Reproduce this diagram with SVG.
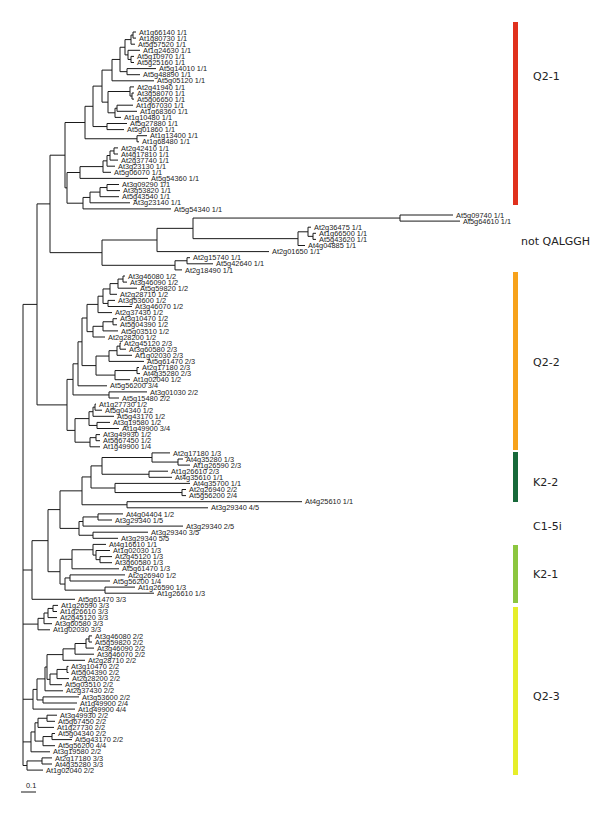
<svg xmlns="http://www.w3.org/2000/svg" width="600" height="816" viewBox="0 0 600 816">
<style>
.br{fill:none;stroke:#1a1a1a;stroke-width:1}
.lf{font-family:"Liberation Sans",Arial,sans-serif;font-size:7.4px;fill:#222}
.cl{font-family:"DejaVu Sans",sans-serif;font-size:11px;fill:#222}
</style>
<rect width="600" height="816" fill="#fff"/>
<g id="connectors" class="br">
<path d="M136 32 H133 V38.1 H136 M133 35.05 H131 V44.2 H135 M134 56.4 H131 V62.5 H134 M140 50.3 H128 V59.45 H131 M131 39.6 H125 V54.9 H128 M156 68.6 H127 V74.7 H140 M125 47.25 H120 V71.65 H127 M120 59.45 H112 V80.8 H154 M134 93 H132 V99.1 H134 M134 86.9 H130 V96.05 H132 M133 105.2 H117 V111.3 H137 M117 108.25 H115 V117.4 H121 M130 91.5 H108 V112.8 H115 M112 70.1 H102 V102.15 H108 M127 123.5 H107 V129.6 H124 M102 86.1 H93 V126.55 H107 M147 135.7 H137 V141.8 H139 M93 106.3 H85 V138.75 H137"/>
<path d="M118 147.9 H114 V154 H118 M114 150.95 H110 V160.1 H118 M110 155.5 H107 V166.2 H115 M107 160.85 H103 V172.3 H111 M103 166.6 H80 V178.4 H148 M119 184.5 H107 V190.6 H120 M107 187.55 H100 V196.7 H119 M100 192.1 H90 V202.8 H130 M90 197.45 H83 V208.9 H171 M80 172.5 H67 V203.2 H83 M85 122.5 H65 V187.85 H67"/>
<path d="M453 215 H400 V221.1 H460 M316 233.3 H313 V239.4 H316 M311 227.2 H308 V236.35 H313 M308 231.8 H298 V245.5 H305 M400 218.05 H193 V238.65 H298 M193 228.35 H157 V251.6 H269 M190 257.7 H187 V263.8 H213 M187 260.75 H175 V269.9 H182 M157 240 H102 V265.3 H175 M65 155.2 H50 V252.65 H102"/>
<path d="M125 276 H123 V282.1 H127 M123 279.05 H118 V288.2 H137 M118 283.6 H110 V294.3 H117 M115 300.4 H108 V306.5 H132 M110 288.95 H103 V303.45 H108 M103 296.2 H98 V312.6 H112 M117 318.7 H113 V324.8 H117 M113 321.75 H103 V330.9 H118 M103 326.3 H93 V337 H105 M98 304.4 H87 V331.65 H93 M121 343.1 H120 V349.2 H126 M120 346.15 H117 V355.3 H132 M117 350.7 H109 V361.4 H144 M139 367.5 H137 V373.6 H140 M137 370.55 H115 V379.7 H130 M109 356.05 H96 V375.1 H115 M87 318 H82 V365.6 H96 M82 341.8 H78 V385.8 H107 M147 391.9 H109 V398 H119 M78 363.8 H73 V394.95 H109 M96 404.1 H95 V410.2 H102 M95 407.15 H93 V416.3 H114 M110 422.4 H97 V428.5 H119 M93 411.7 H89 V425.45 H97 M100 434.6 H96 V440.7 H100 M96 437.65 H90 V446.8 H100 M89 418.6 H75 V442.2 H90 M73 379.4 H67 V430.4 H75 M50 203.9 H37 V404.9 H67"/>
<path d="M183 459 H178 V465.1 H190 M170 452.9 H152 V462.05 H178 M168 471.2 H149 V477.3 H172 M152 457.5 H102 V474.25 H149 M186 489.5 H182 V495.6 H186 M190 483.4 H115 V492.55 H182 M102 465.9 H91 V488 H115 M302 501.7 H127 V507.8 H208 M91 476.95 H82 V504.75 H127"/>
<path d="M123 513.9 H98 V520 H112 M98 516.95 H83 V526.1 H183 M148 532.2 H93 V538.3 H118 M83 521.5 H79 V535.25 H93 M82 490.85 H60 V528.4 H79"/>
<path d="M112 556.6 H100 V562.7 H112 M110 550.5 H96 V559.65 H100 M106 544.4 H93 V555.1 H96 M93 549.75 H72 V568.8 H119 M125 574.9 H70 V581 H110 M135 587.1 H105 V593.2 H154 M70 577.95 H65 V590.15 H105 M72 559.3 H60 V584.05 H65 M60 509.6 H48 V571.7 H60 M48 540.65 H32 V599.3 H75"/>
<path d="M58 605.4 H53 V611.5 H57 M53 608.45 H48 V617.6 H57 M48 613 H44 V623.7 H52 M44 618.35 H38 V629.8 H50 M92 635.9 H89 V642 H92 M89 638.95 H86 V648.1 H94 M86 643.5 H75 V654.2 H94 M75 648.85 H63 V660.3 H85 M68.5 666.4 H67 V672.5 H68.5 M67 669.45 H57 V678.6 H69 M57 674 H50 V684.7 H62 M63 654.6 H47 V679.35 H50 M47 667 H45 V690.8 H63 M79 696.9 H43 V703 H77 M45 678.9 H37 V699.95 H43 M37 689.4 H33 V709.1 H75 M57 715.2 H47 V721.3 H55 M47 718.25 H38 V727.4 H54 M55 733.5 H52 V739.6 H72 M52 736.55 H43 V745.7 H55 M38 722.8 H35 V741.1 H43 M35 731.95 H31 V751.8 H50 M52 757.9 H42 V764 H52 M42 760.95 H27 V770.1 H43"/>
<path d="M37 304.4 H23 V765.5 H27 M23 570 H32 M23 624.1 H38 M23 699.25 H33 M23 741.9 H31"/>
</g>
<g id="clade-Q2-1" class="lf">
<text x="139" y="34.6">At1g66140 1/1</text>
<text x="139" y="40.7">At1g80730 1/1</text>
<text x="138" y="46.8">At5g57520 1/1</text>
<text x="143" y="52.9">At1g24630 1/1</text>
<text x="137" y="59">At5g10970 1/1</text>
<text x="137" y="65.1">At5g25160 1/1</text>
<text x="159" y="71.2">At5g14010 1/1</text>
<text x="143" y="77.3">At5g48890 1/1</text>
<text x="157" y="83.4">At5g05120 1/1</text>
<text x="137" y="89.5">At2g41940 1/1</text>
<text x="137" y="95.6">At3g58070 1/1</text>
<text x="137" y="101.7">At5g06650 1/1</text>
<text x="136" y="107.8">At1g67030 1/1</text>
<text x="140" y="113.9">At1g68360 1/1</text>
<text x="124" y="120">At1g10480 1/1</text>
<text x="130" y="126.1">At5g27880 1/1</text>
<text x="127" y="132.2">At5g01860 1/1</text>
<text x="150" y="138.3">At1g13400 1/1</text>
<text x="142" y="144.4">At1g68480 1/1</text>
<text x="121" y="150.5">At2g42410 1/1</text>
<text x="121" y="156.6">At4g17810 1/1</text>
<text x="121" y="162.7">At2g37740 1/1</text>
<text x="118" y="168.8">At3g23130 1/1</text>
<text x="114" y="174.9">At5g06070 1/1</text>
<text x="151" y="181">At5g54360 1/1</text>
<text x="122" y="187.1">At3g09290 1/1</text>
<text x="123" y="193.2">At3g53820 1/1</text>
<text x="122" y="199.3">At5g43540 1/1</text>
<text x="133" y="205.4">At3g23140 1/1</text>
<text x="174" y="211.5">At5g54340 1/1</text>
</g>
<g id="clade-notQALGGH" class="lf">
<text x="456" y="217.6">At5g09740 1/1</text>
<text x="463" y="223.7">At5g64610 1/1</text>
<text x="314" y="229.8">At2g36475 1/1</text>
<text x="319" y="235.9">At1g66500 1/1</text>
<text x="319" y="242">At5g43620 1/1</text>
<text x="308" y="248.1">At4g04885 1/1</text>
<text x="272" y="254.2">At2g01650 1/1</text>
<text x="193" y="260.3">At2g15740 1/1</text>
<text x="216" y="266.4">At5g42640 1/1</text>
<text x="185" y="272.5">At2g18490 1/1</text>
</g>
<g id="clade-Q2-2" class="lf">
<text x="128" y="278.6">At3g46080 1/2</text>
<text x="130" y="284.7">At3g46090 1/2</text>
<text x="140" y="290.8">At5g59820 1/2</text>
<text x="120" y="296.9">At2g28710 1/2</text>
<text x="118" y="303">At3g53600 1/2</text>
<text x="135" y="309.1">At3g46070 1/2</text>
<text x="115" y="315.2">At2g37430 1/2</text>
<text x="120" y="321.3">At3g10470 1/2</text>
<text x="120" y="327.4">At5g04390 1/2</text>
<text x="121" y="333.5">At5g03510 1/2</text>
<text x="108" y="339.6">At2g28200 1/2</text>
<text x="124" y="345.7">At2g45120 2/3</text>
<text x="129" y="351.8">At3g60580 2/3</text>
<text x="135" y="357.9">At1g02030 2/3</text>
<text x="147" y="364">At5g61470 2/3</text>
<text x="142" y="370.1">At2g17180 2/3</text>
<text x="143" y="376.2">At4g35280 2/3</text>
<text x="133" y="382.3">At1g02040 1/2</text>
<text x="110" y="388.4">At5g56200 3/4</text>
<text x="150" y="394.5">At3g01030 2/2</text>
<text x="122" y="400.6">At5g15480 2/2</text>
<text x="99" y="406.7">At1g27730 1/2</text>
<text x="105" y="412.8">At5g04340 1/2</text>
<text x="117" y="418.9">At5g43170 1/2</text>
<text x="113" y="425">At3g19580 1/2</text>
<text x="122" y="431.1">At1g49900 3/4</text>
<text x="103" y="437.2">At3g49930 1/2</text>
<text x="103" y="443.3">At5g67450 1/2</text>
<text x="103" y="449.4">At1g49900 1/4</text>
</g>
<g id="clade-K2-2" class="lf">
<text x="173" y="455.5">At2g17180 1/3</text>
<text x="186" y="461.6">At4g35280 1/3</text>
<text x="193" y="467.7">At1g26590 2/3</text>
<text x="171" y="473.8">At1g26610 2/3</text>
<text x="175" y="479.9">At4g35610 1/1</text>
<text x="193" y="486">At4g35700 1/1</text>
<text x="189" y="492.1">At2g26940 2/2</text>
<text x="189" y="498.2">At5g56200 2/4</text>
<text x="305" y="504.3">At4g25610 1/1</text>
<text x="211" y="510.4">At3g29340 4/5</text>
</g>
<g id="clade-C1-5i" class="lf">
<text x="126" y="516.5">At4g04404 1/2</text>
<text x="115" y="522.6">At3g29340 1/5</text>
<text x="186" y="528.7">At3g29340 2/5</text>
<text x="151" y="534.8">At3g29340 3/5</text>
<text x="121" y="540.9">At3g29340 5/5</text>
</g>
<g id="clade-K2-1" class="lf">
<text x="109" y="547">At4g16610 1/1</text>
<text x="113" y="553.1">At1g02030 1/3</text>
<text x="115" y="559.2">At2g45120 1/3</text>
<text x="115" y="565.3">At3g60580 1/3</text>
<text x="122" y="571.4">At5g61470 1/3</text>
<text x="128" y="577.5">At2g26940 1/2</text>
<text x="113" y="583.6">At5g56200 1/4</text>
<text x="138" y="589.7">At1g26590 1/3</text>
<text x="157" y="595.8">At1g26610 1/3</text>
</g>
<g id="clade-Q2-3" class="lf">
<text x="78" y="601.9">At5g61470 3/3</text>
<text x="61" y="608">At1g26590 3/3</text>
<text x="60" y="614.1">At1g26610 3/3</text>
<text x="60" y="620.2">At2g45120 3/3</text>
<text x="55" y="626.3">At3g60580 3/3</text>
<text x="53" y="632.4">At1g02030 3/3</text>
<text x="95" y="638.5">At3g46080 2/2</text>
<text x="95" y="644.6">At5g59820 2/2</text>
<text x="97" y="650.7">At3g46090 2/2</text>
<text x="97" y="656.8">At3g46070 2/2</text>
<text x="88" y="662.9">At2g28710 2/2</text>
<text x="71" y="669">At3g10470 2/2</text>
<text x="71" y="675.1">At5g04390 2/2</text>
<text x="72" y="681.2">At2g28200 2/2</text>
<text x="65" y="687.3">At5g03510 2/2</text>
<text x="66" y="693.4">At2g37430 2/2</text>
<text x="82" y="699.5">At3g53600 2/2</text>
<text x="80" y="705.6">At1g49900 2/4</text>
<text x="78" y="711.7">At1g49900 4/4</text>
<text x="60" y="717.8">At3g49930 2/2</text>
<text x="58" y="723.9">At5g67450 2/2</text>
<text x="57" y="730">At1g27730 2/2</text>
<text x="58" y="736.1">At5g04340 2/2</text>
<text x="75" y="742.2">At5g43170 2/2</text>
<text x="58" y="748.3">At5g56200 4/4</text>
<text x="53" y="754.4">At3g19580 2/2</text>
<text x="55" y="760.5">At2g17180 3/3</text>
<text x="55" y="766.6">At4g35280 3/3</text>
<text x="46" y="772.7">At1g02040 2/2</text>
</g>
<g id="scale">
<line x1="21" y1="792" x2="36" y2="792" stroke="#1a1a1a" stroke-width="1"/>
<text class="lf" x="26" y="788">0.1</text>
</g>
<g id="groups">
<rect x="513" y="22" width="5" height="183" fill="#e0311d"/>
<text class="cl" x="533" y="80">Q2-1</text>
<text class="cl" x="521" y="245">not QALGGH</text>
<rect x="513" y="272" width="5" height="178" fill="#f7a21b"/>
<text class="cl" x="533" y="366">Q2-2</text>
<rect x="513" y="452" width="5" height="50" fill="#17693a"/>
<text class="cl" x="533" y="486">K2-2</text>
<text class="cl" x="533" y="530">C1-5i</text>
<rect x="513" y="545" width="5" height="58" fill="#8cc63f"/>
<text class="cl" x="533" y="578">K2-1</text>
<rect x="513" y="607" width="5" height="168" fill="#e6ee2a"/>
<text class="cl" x="533" y="700">Q2-3</text>
</g>
</svg>
